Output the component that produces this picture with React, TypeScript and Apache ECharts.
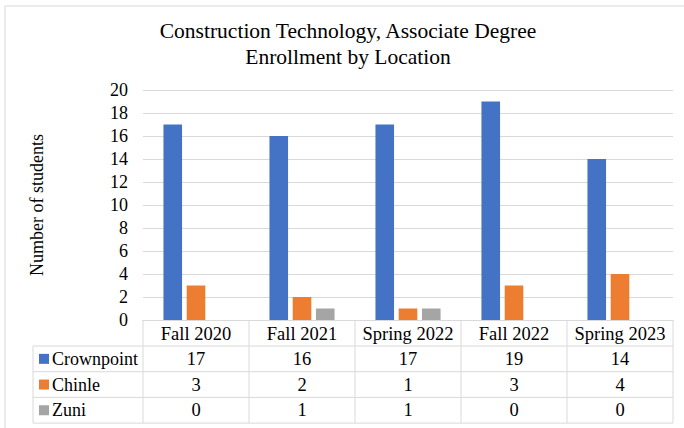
import React, { useEffect, useRef } from "react";
import * as echarts from "echarts";

const titleLines = ["Construction Technology, Associate Degree", "Enrollment by Location"];
const categories = ["Fall 2020", "Fall 2021", "Spring 2022", "Fall 2022", "Spring 2023"];
const seriesNames = ["Crownpoint", "Chinle", "Zuni"];
const crownpoint = [17, 16, 17, 19, 14];
const chinle = [3, 2, 1, 3, 4];
const zuni = [0, 1, 1, 0, 0];
const seriesColors = ["#4472C4", "#ED7D31", "#A5A5A5"];
const yAxisName = "Number of students";
const yMin = 0;
const yMax = 20;
const yInterval = 2;

const FONT = "Liberation Serif";
const GRID_COLOR = "#d9d9d9";

export default function App() {
  const ref = useRef<HTMLDivElement>(null);

  useEffect(() => {
    if (!ref.current) return;
    const chart = echarts.init(ref.current, undefined, { renderer: "svg" });
    const values = [crownpoint, chinle, zuni];

    const gridLeft = 143;
    const gridRight = 11;
    const gridTop = 90;
    const gridBottom = 108;
    const W = 684;
    const H = 428;

    chart.setOption({
      animation: false,
      textStyle: { fontFamily: FONT },
      title: {
        text: titleLines.join("\n"),
        left: 348,
        top: 18,
        textAlign: "center",
        padding: 0,
        textStyle: {
          fontFamily: FONT,
          fontSize: 21.5,
          fontWeight: "normal",
          color: "#000",
          lineHeight: 26,
        },
      },
      grid: { left: gridLeft, right: gridRight, top: gridTop, bottom: gridBottom },
      xAxis: {
        type: "category",
        data: categories,
        axisLine: { show: true, lineStyle: { color: GRID_COLOR, width: 1 } },
        axisTick: { show: false },
        axisLabel: {
          fontFamily: FONT,
          fontSize: 18.5,
          color: "#000",
          margin: 1,
          lineHeight: 25,
          interval: 0,
        },
      },
      yAxis: {
        type: "value",
        min: yMin,
        max: yMax,
        interval: yInterval,
        name: yAxisName,
        nameLocation: "middle",
        nameGap: 97,
        nameTextStyle: { fontFamily: FONT, fontSize: 18, color: "#000" },
        axisLine: { show: false },
        axisTick: { show: false },
        axisLabel: { fontFamily: FONT, fontSize: 18, color: "#000", margin: 15 },
        splitLine: { lineStyle: { color: GRID_COLOR, width: 1 } },
      },
      series: seriesNames.map((name, i) => ({
        name,
        type: "bar",
        data: values[i],
        barWidth: 18.6,
        barGap: "25%",
        itemStyle: { color: seriesColors[i] },
      })),
    });

    // Build data table below the axis using the axis' own pixel positions
    const centers = categories.map((c) => chart.convertToPixel({ xAxisIndex: 0 }, c) as number);
    const colW = centers.length > 1 ? centers[1] - centers[0] : W - gridLeft - gridRight;
    const bounds = [centers[0] - colW / 2, ...centers.map((c) => c + colW / 2)];
    const axisY = H - gridBottom;
    const headerBottom = 346;
    const rowH = 25.7;
    const tableBottom = headerBottom + rowH * seriesNames.length;
    const labelLeft = 33;

    const g: any[] = [];
    const line = (x1: number, y1: number, x2: number, y2: number) =>
      g.push({
        type: "line",
        shape: { x1, y1, x2, y2 },
        style: { stroke: GRID_COLOR, lineWidth: 1 },
        silent: true,
      });

    // outer chart border
    g.push({
      type: "rect",
      shape: { x: 5, y: 6, width: W + 10, height: H + 10 },
      style: { fill: "none", stroke: GRID_COLOR, lineWidth: 1 },
      silent: true,
    });

    // header column separators
    bounds.forEach((x) => line(x, axisY, x, tableBottom));
    // horizontal rows
    line(labelLeft, headerBottom, bounds[bounds.length - 1], headerBottom);
    for (let r = 1; r <= seriesNames.length; r++) {
      const y = headerBottom + rowH * r;
      line(labelLeft, y, bounds[bounds.length - 1], y);
    }
    line(labelLeft, headerBottom, labelLeft, tableBottom);

    seriesNames.forEach((name, i) => {
      const cy = headerBottom + rowH * i + rowH / 2;
      g.push({
        type: "rect",
        shape: { x: 39, y: cy - 5, width: 10, height: 10 },
        style: { fill: seriesColors[i] },
        silent: true,
      });
      g.push({
        type: "text",
        x: 52,
        y: cy,
        style: {
          text: name,
          fontFamily: FONT,
          fontSize: 18,
          fill: "#000",
          align: "left",
          verticalAlign: "middle",
        },
        silent: true,
      });
      values[i].forEach((v, j) => {
        g.push({
          type: "text",
          x: centers[j],
          y: cy,
          style: {
            text: String(v),
            fontFamily: FONT,
            fontSize: 18.5,
            fill: "#000",
            align: "center",
            verticalAlign: "middle",
          },
          silent: true,
        });
      });
    });

    chart.setOption({ graphic: g });

    return () => chart.dispose();
  }, []);

  return (
    <div
      ref={ref}
      style={{ position: "fixed", left: 0, top: 0, width: 684, height: 428, background: "#fff" }}
    />
  );
}
